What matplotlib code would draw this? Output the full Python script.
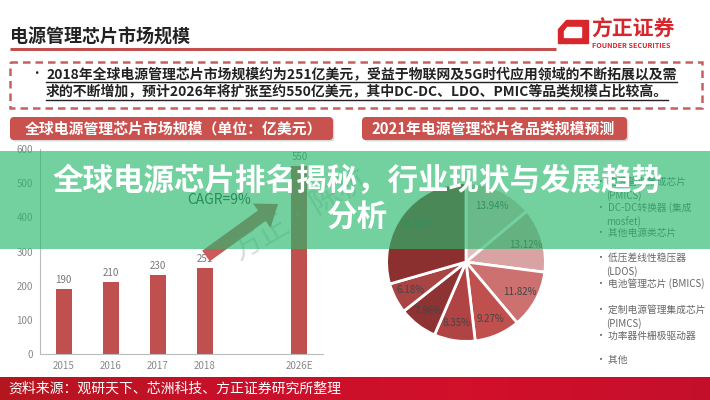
import numpy as np
import matplotlib
matplotlib.use("Agg")
import matplotlib.pyplot as plt
from matplotlib.patches import Rectangle, FancyBboxPatch, FancyArrow, Polygon
from matplotlib.colors import LinearSegmentedColormap

plt.rcParams['font.family'] = ['Noto Sans CJK SC', 'DejaVu Sans']

W, H = 710, 400

# bar chart data
years = ['2015', '2016', '2017', '2018', '2026E']
market_size = [190, 210, 230, 251, 550]
y_ticks = [0, 100, 200, 300, 400, 500, 600]

# pie chart data
segments = ['电源管理集成芯片\n(PMICS)', 'DC-DC转换器 (集成\nmosfet)', '其他电源类芯片',
            '低压差线性稳压器\n(LDOS)', '电池管理芯片 (BMICS)', '定制电源管理集成芯片\n(PIMCS)',
            '功率器件栅极驱动器', '其他']
shares = [13.94, 13.12, 11.82, 9.27, 8.35, 7.86, 6.18, 29.46]
seg_colors = ['#e6bcbc', '#d9a3a3', '#cc7070', '#c0504d', '#b04343', '#8e3333', '#a84444', '#8c2f2f']

title = '电源管理芯片市场规模'
summary = ['2018年全球电源管理芯片市场规模约为251亿美元，受益于物联网及5G时代应用领域的不断拓展以及需',
           '求的不断增加，预计2026年将扩张至约550亿美元，其中DC-DC、LDO、PMIC等品类规模占比较高。']
left_head = '全球电源管理芯片市场规模（单位：亿美元）'
right_head = '2021年电源管理芯片各品类规模预测'
source = '资料来源：观研天下、芯洲科技、方正证券研究所整理'
banner = '全球电源芯片排名揭秘，行业现状与发展趋势\n分析'

fig = plt.figure(figsize=(W / 100, H / 100), dpi=100, facecolor='white')


def box(x0, y0, x1, y1):
    return [x0 / W, 1 - y1 / H, (x1 - x0) / W, (y1 - y0) / H]


# --- bar chart
axb = fig.add_axes(box(40, 149, 323, 354))
slots = [0, 1, 2, 3, 5]
axb.bar(slots, market_size, width=0.34, color='#c0504d', zorder=2)
for s, v in zip(slots, market_size):
    axb.text(s, v + 12, str(v), ha='center', va='bottom', fontsize=7, color='#777777')
axb.set_xlim(-0.5, 5.5)
axb.set_ylim(0, 600)
axb.set_yticks(y_ticks)
axb.set_xticks(slots)
axb.set_xticklabels(years)
axb.tick_params(length=0, labelsize=7, colors='#888888', pad=5)
for side in ['top', 'right']:
    axb.spines[side].set_visible(False)
for side in ['left', 'bottom']:
    axb.spines[side].set_color('#bbbbbb')
axb.set_facecolor('none')

# --- pie chart
axp = fig.add_axes(box(385, 181, 547, 343))
axp.pie(shares, colors=seg_colors, startangle=90, counterclock=False,
        autopct='%.2f%%', pctdistance=0.78,
        wedgeprops=dict(edgecolor='white', linewidth=2),
        textprops=dict(fontsize=7, color='#444444'))
axp.set_aspect('equal')
axp.set_xlim(-1.02, 1.02)
axp.set_ylim(-1.02, 1.02)

# --- overlay for slide decoration
ax = fig.add_axes([0, 0, 1, 1], zorder=10)
ax.set_xlim(0, W)
ax.set_ylim(H, 0)
ax.axis('off')
ax.patch.set_alpha(0)

# title and rule
ax.text(10, 37, title, fontsize=13, fontweight='bold', color='#222222', va='center')
ax.plot([10, 556], [49, 49], color='#c0504d', lw=2.2, solid_capstyle='butt')

# logo
ax.add_patch(Polygon([(566, 20), (588, 20), (588, 43), (558, 43), (558, 29)], closed=True,
                     color='#d7262c'))
ax.add_patch(Polygon([(567, 27), (581, 27), (581, 37), (564, 37), (564, 31)], closed=True,
                     color='white'))
ax.text(591, 29, '方正证券', fontsize=15, fontweight='bold', color='#d7262c', va='center')
ax.text(592, 46, 'FOUNDER SECURITIES', fontsize=5.2, fontweight='bold', color='#d7262c', va='center')

# dashed summary box
ax.add_patch(Rectangle((10, 62), 692, 46, fill=False, edgecolor='#c5605e', lw=1.8,
                       linestyle=(0, (3, 2))))
ax.text(30, 74, '•', fontsize=9, color='#222222', va='center')
lines = []
for i, s in enumerate(summary):
    lines.append(ax.text(46, 74 + 18 * i, s, fontsize=10, fontweight='bold', color='#222222',
                         va='center'))

# section headers
for x0, x1, pad, txt in [(10, 333, 15, left_head), (362, 627, 9, right_head)]:
    ax.add_patch(FancyBboxPatch((x0 + 1.5, 118.5), x1 - x0, 23, boxstyle='round,pad=0,rounding_size=4',
                                color='#999999', alpha=0.35, lw=0))
    ax.add_patch(FancyBboxPatch((x0, 117), x1 - x0, 23, boxstyle='round,pad=0,rounding_size=4',
                                color='#c9514e', lw=0))
    ax.text(x0 + pad, 129, txt, fontsize=10.7, fontweight='bold', color='white', va='center')

# CAGR arrow, label and watermark
ax.add_patch(FancyArrow(206, 256, 72, -52, width=13, head_width=30, head_length=20,
                        length_includes_head=True, color='#cc5a5a', lw=0, zorder=1))
ax.text(187, 200, 'CAGR=9%', fontsize=10, color='#2a3a30', va='center', zorder=2)
ax.text(300, 215, '方正·陈杭', fontsize=22, color='#888888', alpha=0.3, rotation=30,
        ha='center', va='center', zorder=2)

# pie legend
legend_y = [182, 208, 233, 258, 284, 310, 336, 360]
for y, lab in zip(legend_y, segments):
    parts = lab.split('\n')
    ax.text(596, y, '• ' + parts[0], fontsize=7, color='#666666', va='center')
    if len(parts) > 1:
        ax.text(606, y + 14, parts[1], fontsize=7, color='#666666', va='center')

# source bar at the bottom
grad = LinearSegmentedColormap.from_list('src', ['#b5161f', '#c8102a', '#d2102a', '#c40f2c'])
ax.imshow(np.linspace(0, 1, 256)[None, :], cmap=grad, aspect='auto',
          extent=[0, W, H, 377], zorder=1)
ax.text(8, 389, source, fontsize=10, color='white', va='center', zorder=2)

# green banner with headline
ax.add_patch(Rectangle((0, 151), W, 98, color='#28b96e', alpha=0.65, lw=0, zorder=5))
ax.text(357, 199, banner, fontsize=22, fontweight='bold', color='white', ha='center',
        va='center', linespacing=1.2, zorder=6)

ax.set_xlim(0, W)
ax.set_ylim(H, 0)

# underline the summary text
fig.canvas.draw()
r = fig.canvas.get_renderer()
inv = ax.transData.inverted()
for t in lines:
    bb = t.get_window_extent(r)
    (xa, ya), (xb, yb) = inv.transform([(bb.x0, bb.y0), (bb.x1, bb.y1)])
    ax.plot([xa, xb], [ya + 0.5, ya + 0.5], color='#222222', lw=1)

fig.savefig('out.png', dpi=100, facecolor='white')
